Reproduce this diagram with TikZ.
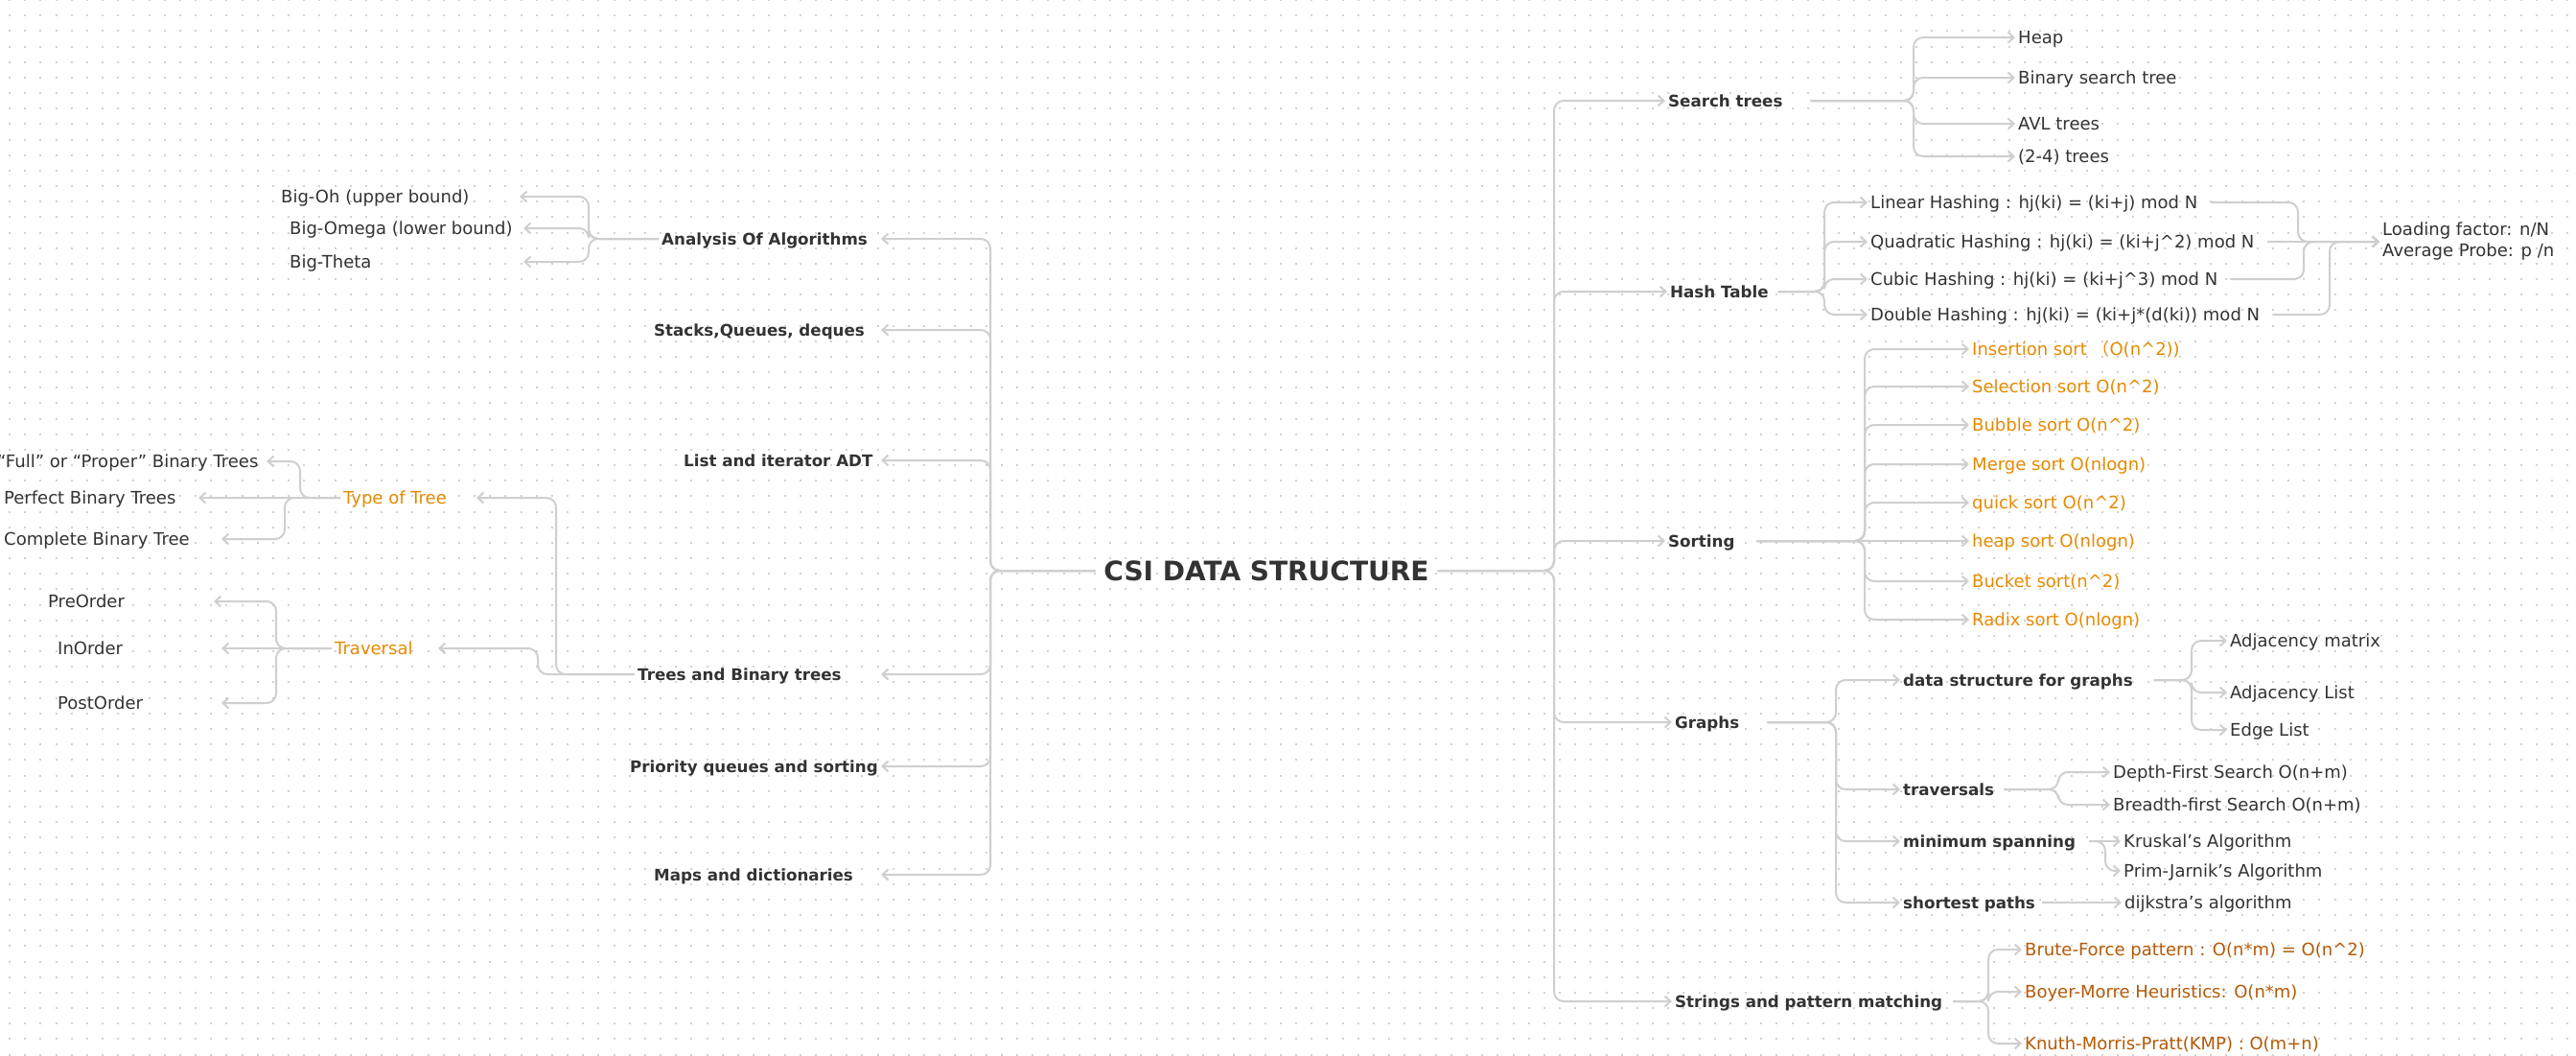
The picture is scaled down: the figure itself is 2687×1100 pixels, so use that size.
\documentclass[tikz,border=0pt]{standalone}
\usepackage{fontspec}
\setmainfont{DejaVu Sans}
\newfontfamily\cjk{Noto Sans CJK SC}
\usetikzlibrary{arrows.meta}
\definecolor{ink}{HTML}{333333}
\definecolor{linegray}{HTML}{CFCFCF}
\definecolor{dotgray}{HTML}{D2D2D2}
\definecolor{sortorange}{HTML}{E68A00}
\definecolor{strbrown}{HTML}{B45A06}
\newcommand{\caret}{\textasciicircum}

\begin{document}
\begin{tikzpicture}[x=1pt,y=-1pt]
\tikzstyle{ramo} = [draw=linegray, line width=2pt, rounded corners=10pt, -{Straight Barb[length=6pt,width=11pt]}]
\tikzstyle{voce} = [inner xsep=3pt, inner ysep=0pt, text height=13pt, text depth=0pt, text=ink, font=\fontsize{18}{22}\selectfont]
\tikzstyle{capo} = [voce, font=\fontsize{16.7}{20}\selectfont\bfseries]
\tikzstyle{ordina} = [voce, text=sortorange]
\tikzstyle{stringa} = [voce, text=strbrown]
\tikzstyle{puntini} = [dotgray, line width=2pt, dash pattern=on 2pt off 14.17pt]

\useasboundingbox (0,0) rectangle (2687,1100);
\fill[white] (0,0) rectangle (2687,1100);
\foreach \j in {0,...,68} \draw[puntini] (9,\j*16.17) -- (2687,\j*16.17);

\node[voce, font=\fontsize{28}{32}\selectfont\bfseries, text height=20pt, inner xsep=9pt] (root) at (1321,595) {CSI DATA STRUCTURE};

\node[capo, anchor=west] (ana) at (687,249) {Analysis Of Algorithms};
\node[capo, anchor=west] (sqd) at (679,344) {Stacks,Queues, deques};
\node[capo, anchor=west] (lia) at (710,480) {List and iterator ADT};
\node[capo, anchor=west] (tbt) at (662,703) {Trees and Binary trees};
\node[capo, anchor=west] (pqs) at (654,799) {Priority queues and sorting};
\node[capo, anchor=west] (mad) at (679,912) {Maps and dictionaries};
\draw[ramo] (root.west) -- (1033,595) |- ([xshift=232pt]ana.west);
\draw[ramo] (root.west) -- (1033,595) |- ([xshift=240pt]sqd.west);
\draw[ramo] (root.west) -- (1033,595) |- ([xshift=209pt]lia.west);
\draw[ramo] (root.west) -- (1033,595) |- ([xshift=257pt]tbt.west);
\draw[ramo] (root.west) -- (1033,595) |- ([xshift=265pt]pqs.west);
\draw[ramo] (root.west) -- (1033,595) |- ([xshift=240pt]mad.west);

\node[voce, anchor=west] (bigo) at (290,205) {Big-Oh (upper bound)};
\node[voce, anchor=west] (bigom) at (299,238) {Big-Omega (lower bound)};
\node[voce, anchor=west] (bigt) at (299,273) {Big-Theta};
\draw[ramo] (ana.west) -- (614,249) |- ([xshift=252pt]bigo.west);
\draw[ramo] (ana.west) -- (614,249) |- ([xshift=247pt]bigom.west);
\draw[ramo] (ana.west) -- (614,249) |- ([xshift=247pt]bigt.west);

\node[ordina, anchor=west] (tot) at (355,519) {Type of Tree};
\node[ordina, anchor=west] (trv) at (346,676) {Traversal};
\draw[ramo] (tbt.west) -- (580,703) |- ([xshift=142pt]tot.west);
\draw[ramo] (tbt.west) -- (561,703) |- ([xshift=111pt]trv.west);

\node[voce, anchor=west] (fpb) at (-6,481) {“Full” or “Proper” Binary Trees};
\node[voce, anchor=west] (pbt) at (1,519) {Perfect Binary Trees};
\node[voce, anchor=west] (cbt) at (1,562) {Complete Binary Tree};
\draw[ramo] (tot.west) -- (313,519) |- ([xshift=284pt]fpb.west);
\draw[ramo] (tot.west) -- ([xshift=206pt]pbt.west);
\draw[ramo] (tot.west) -- (297,519) |- ([xshift=230pt]cbt.west);

\node[voce, anchor=west] (pre) at (47,627) {PreOrder};
\node[voce, anchor=west] (ino) at (57,676) {InOrder};
\node[voce, anchor=west] (pos) at (57,733) {PostOrder};
\draw[ramo] (trv.west) -- (288,676) |- ([xshift=176pt]pre.west);
\draw[ramo] (trv.west) -- ([xshift=174pt]ino.west);
\draw[ramo] (trv.west) -- (288,676) |- ([xshift=174pt]pos.west);

\node[capo, anchor=west] (st) at (1737,105) {Search trees};
\node[capo, anchor=west] (ht) at (1739,304) {Hash Table};
\node[capo, anchor=west] (srt) at (1737,564) {Sorting};
\node[capo, anchor=west] (grp) at (1744,753) {Graphs};
\node[capo, anchor=west] (spm) at (1744,1044) {Strings and pattern matching};
\draw[ramo] (root.east) -- (1621,595) |- (st.west);
\draw[ramo] (root.east) -- (1621,595) |- (ht.west);
\draw[ramo] (root.east) -- (1621,595) |- (srt.west);
\draw[ramo] (root.east) -- (1621,595) |- (grp.west);
\draw[ramo] (root.east) -- (1621,595) |- (spm.west);

\node[voce, anchor=west] (heap) at (2102,39) {Heap};
\node[voce, anchor=west] (bst) at (2102,81) {Binary search tree};
\node[voce, anchor=west] (avl) at (2102,129) {AVL trees};
\node[voce, anchor=west] (t24) at (2102,163) {(2-4) trees};
\draw[ramo, shorten <=26pt] (st.east) -- (1996,105) |- (heap.west);
\draw[ramo, shorten <=26pt] (st.east) -- (1996,105) |- (bst.west);
\draw[ramo, shorten <=26pt] (st.east) -- (1996,105) |- (avl.west);
\draw[ramo, shorten <=26pt] (st.east) -- (1996,105) |- (t24.west);

\node[voce, anchor=west] (lh) at (1948,211) {Linear Hashing : hj(ki) = (ki+j) mod N};
\node[voce, anchor=west] (qh) at (1948,252) {Quadratic Hashing : hj(ki) = (ki+j\caret2) mod N};
\node[voce, anchor=west] (ch) at (1948,291) {Cubic Hashing : hj(ki) = (ki+j\caret3) mod N};
\node[voce, anchor=west] (dh) at (1948,328) {Double Hashing : hj(ki) = (ki+j*(d(ki)) mod N};
\draw[ramo, shorten <=7pt] (ht.east) -- (1903,304) |- (lh.west);
\draw[ramo, shorten <=7pt] (ht.east) -- (1903,304) |- (qh.west);
\draw[ramo, shorten <=7pt] (ht.east) -- (1903,304) |- (ch.west);
\draw[ramo, shorten <=7pt] (ht.east) -- (1903,304) |- (dh.west);

\node[anchor=west, inner xsep=3pt, align=left, text=ink, font=\fontsize{18}{22}\selectfont] (lf) at (2482,252) {Loading factor: n/N\\Average Probe: p /n};
\draw[ramo, shorten <=10pt] (lh.east) -- (2397,211) |- (lf.west);
\draw[ramo, shorten <=10pt] (qh.east) -- (lf.west);
\draw[ramo, shorten <=10pt] (ch.east) -- (2403,291) |- (lf.west);
\draw[ramo, shorten <=10pt] (dh.east) -- (2430,328) |- (lf.west);

\node[ordina, anchor=west] (is) at (2054,364) {Insertion sort {\cjk （}O(n\caret2))};
\node[ordina, anchor=west] (ss) at (2054,403) {Selection sort O(n\caret2)};
\node[ordina, anchor=west] (bs) at (2054,443) {Bubble sort O(n\caret2)};
\node[ordina, anchor=west] (ms) at (2054,484) {Merge sort O(nlogn)};
\node[ordina, anchor=west] (qs) at (2054,524) {quick sort O(n\caret2)};
\node[ordina, anchor=west] (hs) at (2054,564) {heap sort O(nlogn)};
\node[ordina, anchor=west] (bks) at (2054,606) {Bucket sort(n\caret2)};
\node[ordina, anchor=west] (rs) at (2054,646) {Radix sort O(nlogn)};
\draw[ramo, shorten <=20pt] (srt.east) -- (1945,564) |- (is.west);
\draw[ramo, shorten <=20pt] (srt.east) -- (1945,564) |- (ss.west);
\draw[ramo, shorten <=20pt] (srt.east) -- (1945,564) |- (bs.west);
\draw[ramo, shorten <=20pt] (srt.east) -- (1945,564) |- (ms.west);
\draw[ramo, shorten <=20pt] (srt.east) -- (1945,564) |- (qs.west);
\draw[ramo, shorten <=20pt] (srt.east) -- (hs.west);
\draw[ramo, shorten <=20pt] (srt.east) -- (1945,564) |- (bks.west);
\draw[ramo, shorten <=20pt] (srt.east) -- (1945,564) |- (rs.west);

\node[capo, anchor=west] (dsg) at (1982,709) {data structure for graphs};
\node[capo, anchor=west] (trs) at (1982,823) {traversals};
\node[capo, anchor=west] (mst) at (1982,877) {minimum spanning};
\node[capo, anchor=west] (shp) at (1982,941) {shortest paths};
\draw[ramo, shorten <=26pt] (grp.east) -- (1915,753) |- (dsg.west);
\draw[ramo, shorten <=26pt] (grp.east) -- (1915,753) |- (trs.west);
\draw[ramo, shorten <=26pt] (grp.east) -- (1915,753) |- (mst.west);
\draw[ramo, shorten <=26pt] (grp.east) -- (1915,753) |- (shp.west);

\node[voce, anchor=west] (adm) at (2323,668) {Adjacency matrix};
\node[voce, anchor=west] (adl) at (2323,722) {Adjacency List};
\node[voce, anchor=west] (edl) at (2323,761) {Edge List};
\draw[ramo, shorten <=19pt] (dsg.east) -- (2286,709) |- (adm.west);
\draw[ramo, shorten <=19pt] (dsg.east) -- (2286,709) |- (adl.west);
\draw[ramo, shorten <=19pt] (dsg.east) -- (2286,709) |- (edl.west);

\node[voce, anchor=west] (dfs) at (2201,805) {Depth-First Search O(n+m)};
\node[voce, anchor=west] (bfs) at (2201,839) {Breadth-first Search O(n+m)};
\draw[ramo, shorten <=7pt] (trs.east) -- (2147,823) |- (dfs.west);
\draw[ramo, shorten <=7pt] (trs.east) -- (2147,823) |- (bfs.west);

\node[voce, anchor=west] (kru) at (2212,877) {Kruskal’s Algorithm};
\node[voce, anchor=west] (prim) at (2212,908) {Prim-Jarnik’s Algorithm};
\draw[ramo, shorten <=11pt] (mst.east) -- (kru.west);
\draw[ramo, shorten <=11pt] (mst.east) -- (2196,877) |- (prim.west);

\node[voce, anchor=west] (dij) at (2213,941) {dijkstra’s algorithm};
\draw[ramo, shorten <=4pt] (shp.east) -- (dij.west);

\node[stringa, anchor=west] (bfp) at (2109,990) {Brute-Force pattern : O(n*m) = O(n\caret2)};
\node[stringa, anchor=west] (bmh) at (2109,1034) {Boyer-Morre Heuristics: O(n*m)};
\node[stringa, anchor=west] (kmp) at (2109,1088) {Knuth-Morris-Pratt(KMP) : O(m+n)};
\draw[ramo, shorten <=8pt] (spm.east) -- (2074,1044) |- (bfp.west);
\draw[ramo, shorten <=8pt] (spm.east) -- (2074,1044) |- (bmh.west);
\draw[ramo, shorten <=8pt] (spm.east) -- (2074,1044) |- (kmp.west);
\end{tikzpicture}
\end{document}
